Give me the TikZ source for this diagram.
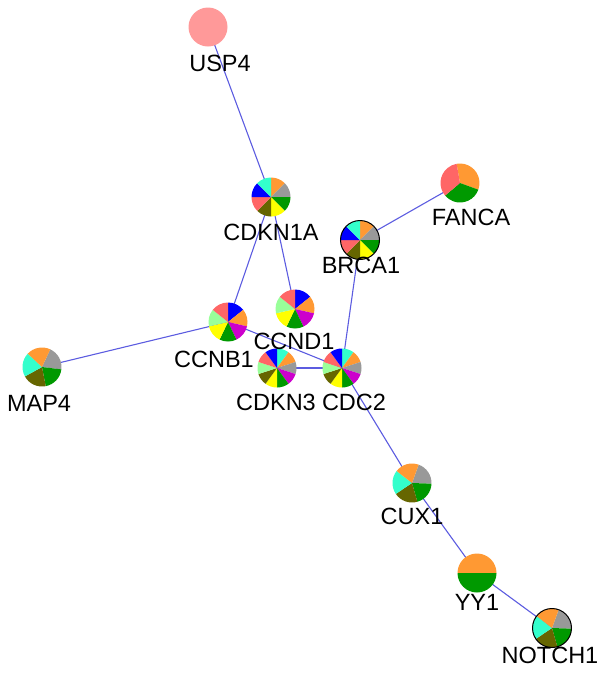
\documentclass[tikz,border=0pt]{standalone}
\usepackage{fontspec}
\setmainfont{Liberation Sans}
\definecolor{edgeBlue}{RGB}{92,92,224}
\definecolor{pOrange}{HTML}{FF9933}
\definecolor{pGray}{HTML}{999999}
\definecolor{pGreen}{HTML}{009900}
\definecolor{pYellow}{HTML}{FFFF00}
\definecolor{pOlive}{HTML}{666600}
\definecolor{pSalmon}{HTML}{FF6666}
\definecolor{pBlue}{HTML}{0000FF}
\definecolor{pCyan}{HTML}{33FFCC}
\definecolor{pLight}{HTML}{99FF99}
\definecolor{pMagenta}{HTML}{CC00CC}
\definecolor{pPink}{HTML}{FF9999}
\newcommand{\pieR}{19.5pt}
% pie: [start angle]{node}{slices}{colours, clockwise}
\newcommand{\genepie}[4][90]{%
	\foreach \col [count=\i from 0] in {#4}
		\fill[\col] (#2.center) -- ++({#1-\i*360/#3}:\pieR)
			arc[start angle={#1-\i*360/#3}, delta angle={-360/#3}, radius=\pieR] -- cycle;}
\begin{document}
\begin{tikzpicture}[x=1pt,y=1pt,
				gene/.style={circle,minimum size=39pt,inner sep=0pt},
				link/.style={draw=edgeBlue,line width=1.1pt},
				lbl/.style={font=\fontsize{23.5}{23.5}\selectfont,inner sep=0pt}]
\useasboundingbox (0,0) rectangle (600,-673);
% genes
\node[gene] (usp4) at (208,-27) {};
\node[gene] (cdkn1a) at (271,-197) {};
\node[gene] (fanca) at (460,-183) {};
\node[gene] (brca1) at (360,-240) {};
\node[gene] (ccnb1) at (228,-322) {};
\node[gene] (ccnd1) at (295,-309) {};
\node[gene] (cdkn3) at (277,-368) {};
\node[gene] (cdc2) at (342,-368) {};
\node[gene] (map4) at (42,-367) {};
\node[gene] (cux1) at (412,-483) {};
\node[gene] (yy1) at (477,-573) {};
\node[gene] (notch1) at (552,-628) {};
% interactions
\draw[link] (usp4.center) -- (cdkn1a.center);
\draw[link] (cdkn1a.center) -- (ccnb1.center);
\draw[link] (cdkn1a.center) -- (ccnd1.center);
\draw[link] (fanca.center) -- (brca1.center);
\draw[link] (brca1.center) -- (cdc2.center);
\draw[link] (ccnb1.center) -- (map4.center);
\draw[link] (ccnb1.center) -- (cdc2.center);
\draw[link] (cdkn3.center) -- (cdc2.center);
\draw[link] (cdc2.center) -- (cux1.center);
\draw[link] (cux1.center) -- (yy1.center);
\draw[link] (yy1.center) -- (notch1.center);
% pies
\genepie{usp4}{1}{pPink}
\genepie{cdkn1a}{8}{pOrange,pGray,pGreen,pYellow,pOlive,pSalmon,pBlue,pCyan}
\genepie[100]{fanca}{3}{pOrange,pGreen,pSalmon}
\genepie{brca1}{8}{pOrange,pGray,pGreen,pYellow,pOlive,pSalmon,pBlue,pCyan}
\genepie{ccnb1}{7}{pBlue,pOrange,pMagenta,pGreen,pYellow,pLight,pSalmon}
\genepie{ccnd1}{7}{pBlue,pOrange,pMagenta,pGreen,pYellow,pLight,pSalmon}
\genepie{cdkn3}{10}{pCyan,pOrange,pGray,pMagenta,pGreen,pYellow,pOlive,pLight,pSalmon,pBlue}
\genepie{cdc2}{10}{pCyan,pOrange,pGray,pMagenta,pGreen,pYellow,pOlive,pLight,pSalmon,pBlue}
\genepie[65]{map4}{5}{pGray,pGreen,pOlive,pCyan,pOrange}
\genepie[70]{cux1}{5}{pGray,pGreen,pOlive,pCyan,pOrange}
\genepie[180]{yy1}{2}{pOrange,pGreen}
\genepie[70]{notch1}{5}{pGray,pGreen,pOlive,pCyan,pOrange}
\draw[line width=1pt] (brca1.center) circle[radius=\pieR];
\draw[line width=1pt] (notch1.center) circle[radius=\pieR];
% labels
\node[lbl] (usp4-l) at (220,-63) {USP4};
\node[lbl] (cdkn1a-l) at (271,-232) {CDKN1A};
\node[lbl] (fanca-l) at (471,-217) {FANCA};
\node[lbl] (brca1-l) at (361,-265) {BRCA1};
\node[lbl] (ccnb1-l) at (214,-359) {CCNB1};
\node[lbl] (ccnd1-l) at (294,-341) {CCND1};
\node[lbl] (cdkn3-l) at (276,-402) {CDKN3};
\node[lbl] (cdc2-l) at (354,-402) {CDC2};
\node[lbl] (map4-l) at (39,-403) {MAP4};
\node[lbl] (cux1-l) at (412,-516) {CUX1};
\node[lbl] (yy1-l) at (477,-602) {YY1};
\node[lbl] (notch1-l) at (550,-655) {NOTCH1};
\end{tikzpicture}
\end{document}
